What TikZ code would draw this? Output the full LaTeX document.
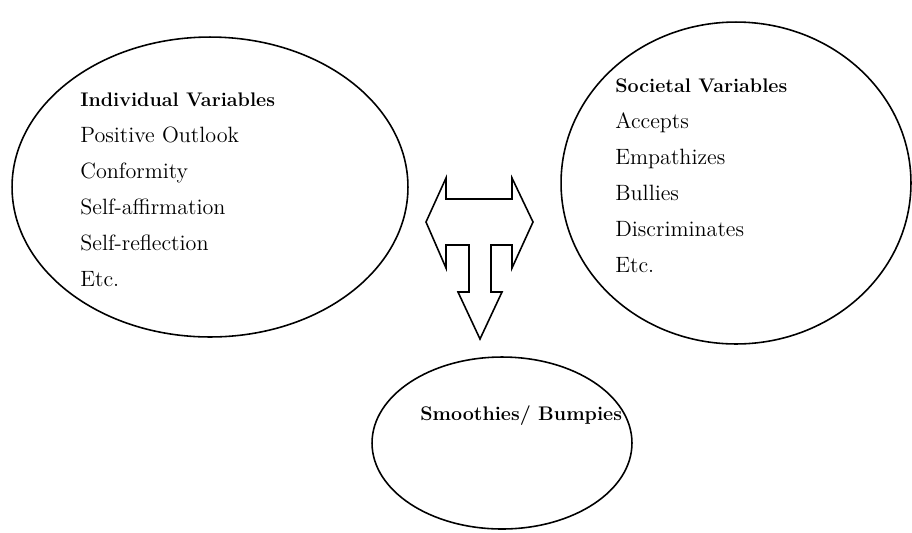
\documentclass[tikz,border=0pt]{standalone}
\usepackage{tikz}
\usetikzlibrary{shapes.geometric}

\begin{document}
\begin{tikzpicture}[
    x=0.02cm, y=-0.02cm,
    bubble/.style={draw,ellipse,line width=0.9pt,inner sep=0pt},
    head/.style={anchor=base west,inner sep=0pt,font=\fontsize{11.2}{13}\selectfont\bfseries},
    item/.style={anchor=base west,inner sep=0pt,font=\fontsize{12.6}{15}\selectfont},
    blockarrow/.style={draw,line width=0.9pt,line join=miter}
]
\useasboundingbox (0,0) rectangle (912,532);
% the three circles of variables
\node[bubble,minimum width=7.92cm,minimum height=6cm] (indiv) at (210,187) {};
\node[bubble,minimum width=7cm,minimum height=6.44cm] (soc) at (736,183) {};
\node[bubble,minimum width=5.2cm,minimum height=3.44cm] (smooth) at (502,443) {};
% left list
\node[head] (indivhead) at (80,106) {Individual Variables};
\foreach \txt [count=\i from 1] in {Positive Outlook,Conformity,Self-affirmation,Self-reflection,Etc.}
  \node[item] (indiv-\i) at (80,{106+36*\i}) {\txt};
% right list
\node[head] (sochead) at (615,92) {Societal Variables};
\foreach \txt [count=\i from 1] in {Accepts,Empathizes,Bullies,Discriminates,Etc.}
  \node[item] (soc-\i) at (615,{92+36*\i}) {\txt};
% bottom
\node[head] (smoothhead) at (420,420) {Smoothies/ Bumpies};
% double arrow with the arrow down
\draw[blockarrow] (426,222) -- (446,178) -- (446,199) -- (512,199) -- (512,178)
  -- (533,222) -- (512,268) -- (512,245) -- (491,245) -- (491,292) -- (502,292)
  -- (480,339) -- (458,292) -- (469,292) -- (469,245) -- (446,245) -- (446,268) -- cycle;
\end{tikzpicture}
\end{document}
